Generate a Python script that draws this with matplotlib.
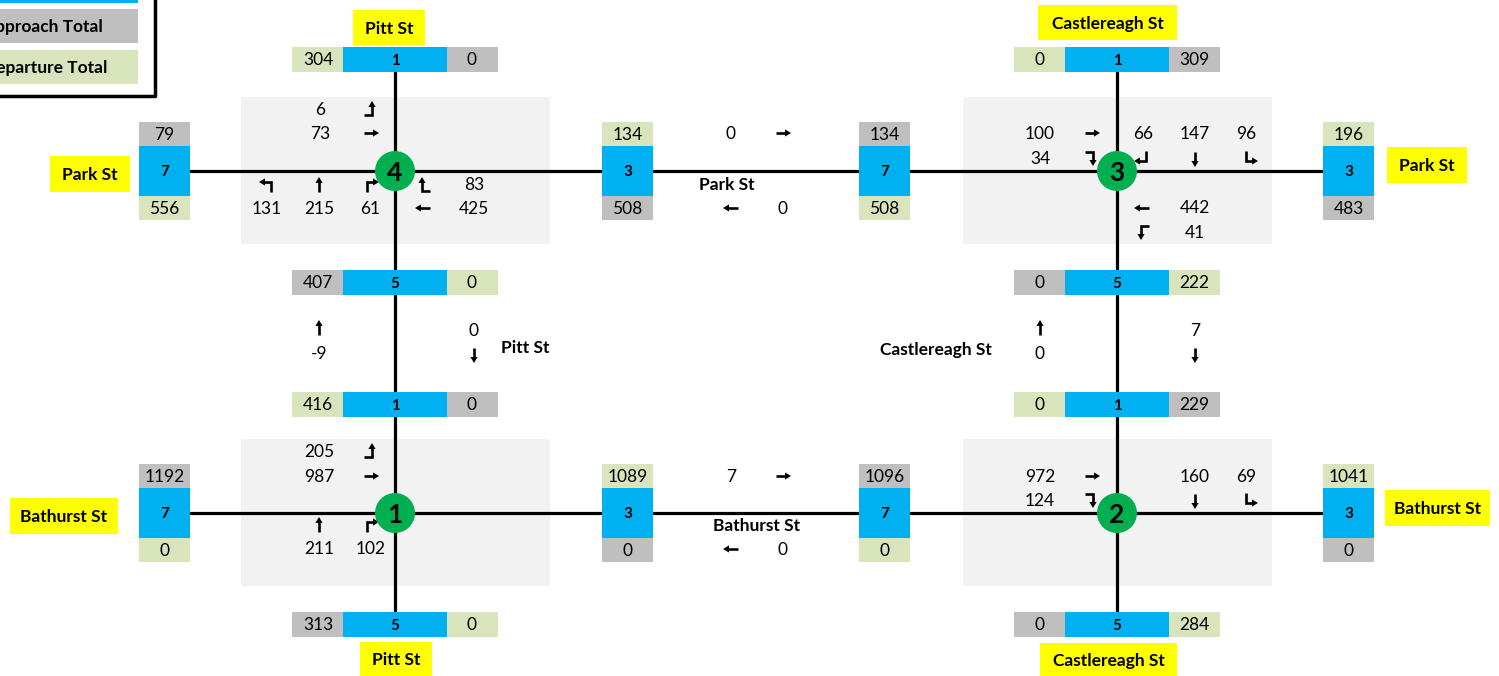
# ____________________________________________________________
# import modules
import numpy as np
import matplotlib.pyplot as plt
from matplotlib.patches import Rectangle, Circle, Polygon

plt.rcParams['font.family'] = ['Lato', 'DejaVu Sans']

# ____________________________________________________________
# data

# approach / departure boxes on the east-west streets (top, lane, bottom)
side_top = [79, 134, 134, 196, 1192, 1089, 1096, 1041]
side_lane = [7, 3, 7, 3, 7, 3, 7, 3]
side_bottom = [556, 508, 508, 483, 0, 0, 0, 0]
side_top_is_approach = [True, False, True, False, True, False, True, False]

# approach / departure boxes on the north-south streets (left, lane, right)
ns_left = [304, 407, 416, 313, 0, 0, 0, 0]
ns_lane = [1, 5, 1, 5, 1, 5, 1, 5]
ns_right = [0, 0, 0, 0, 309, 222, 229, 284]
ns_left_is_approach = [False, True, False, True, False, True, False, True]

# turning movements per intersection (volume, arrow)
int4_moves = [(6, '⬏'), (73, '→'), (131, '↰'), (215, '↑'), (61, '↱'), (83, '⬑'), (425, '←')]
int3_moves = [(100, '→'), (34, '⬎'), (66, '↵'), (147, '↓'), (96, '↳'), (442, '←'), (41, '⬐')]
int1_moves = [(205, '⬏'), (987, '→'), (211, '↑'), (102, '↱')]
int2_moves = [(972, '→'), (124, '⬎'), (160, '↓'), (69, '↳')]

# mid-block link flows
park_link = [0, 0]          # eastbound, westbound
bathurst_link = [7, 0]
pitt_link = [-9, 0]         # northbound, southbound
castlereagh_link = [0, 7]

street_labels = ['Pitt St', 'Castlereagh St', 'Park St', 'Bathurst St']
intersection_ids = [4, 3, 1, 2]

BLUE = '#00B0F0'
GREY = '#BFBFBF'
GREEN = '#D8E4BC'
YELLOW = '#FFFF00'
NODE = '#00B050'
SHADE = '#F2F2F2'

# arrow shapes as polylines (pixel offsets, y down), last point is the tip
ARROW_PATHS = {
    '→': [(-7, 0), (7, 0)],
    '←': [(7, 0), (-7, 0)],
    '↑': [(0, 7), (0, -7)],
    '↓': [(0, -7), (0, 7)],
    '⬏': [(-7, 6), (1, 6), (1, -7)],
    '⬎': [(-7, -6), (1, -6), (1, 7)],
    '⬑': [(7, 6), (-1, 6), (-1, -7)],
    '⬐': [(7, -6), (-1, -6), (-1, 7)],
    '↰': [(4, 7), (4, -3), (-7, -3)],
    '↱': [(-4, 7), (-4, -3), (7, -3)],
    '↳': [(-4, -7), (-4, 3), (7, 3)],
    '↵': [(4, -7), (4, 3), (-7, 3)],
}

# ____________________________________________________________
# figure

fig = plt.figure(figsize=(14.99, 6.76), dpi=100)
ax = fig.add_axes([0, 0, 1, 1])
ax.set_xlim(0, 1499)
ax.set_ylim(676, 0)
ax.axis('off')


def box(x0, y0, x1, y1, color, z=3):
    ax.add_patch(Rectangle((x0, y0), x1 - x0, y1 - y0, facecolor=color,
                           edgecolor='none', zorder=z))


def txt(x, y, s, size=12.5, bold=False, z=6):
    ax.text(x, y, str(s), ha='center', va='center', fontsize=size,
            fontweight='bold' if bold else 'normal', color='black', zorder=z)


def arrow(x, y, s):
    pts = np.array(ARROW_PATHS[s], dtype=float) + [x, y]
    tip = pts[-1]
    d = tip - pts[-2]
    d = d / np.hypot(*d)
    n = np.array([-d[1], d[0]])
    line = pts.copy()
    line[-1] = tip - 4 * d
    ax.plot(line[:, 0], line[:, 1], color='black', lw=1.9,
            solid_joinstyle='miter', solid_capstyle='butt', zorder=6)
    head = [tip + 1 * d, tip - 5 * d + 3.6 * n, tip - 5 * d - 3.6 * n]
    ax.add_patch(Polygon(head, closed=True, facecolor='black', edgecolor='none', zorder=6))


def label(x0, y0, x1, y1, s):
    box(x0, y0, x1, y1, YELLOW)
    txt((x0 + x1) / 2, (y0 + y1) / 2 + 1, s, size=12.5, bold=True)


# legend (partly off canvas)
box(0, 0, 138, 2.5, BLUE)
box(0, 9, 138, 43, GREY)
box(0, 50, 138, 84, GREEN)
ax.text(103, 27, 'Approach Total', ha='right', va='center', fontsize=12.5, fontweight='bold', zorder=6)
ax.text(107, 68, 'Departure Total', ha='right', va='center', fontsize=12.5, fontweight='bold', zorder=6)
ax.plot([155, 155, -5], [-5, 96, 96], color='black', lw=2.5, zorder=5)

# shaded intersection areas
for cx, cy in [(395, 171), (1117, 171), (395, 513), (1117, 513)]:
    box(cx - 154, cy - 74, cx + 155, cy + 73, SHADE, z=1)

# road lines
for y in [171, 513]:
    ax.plot([190, 1323], [y, y], color='black', lw=2.3, zorder=2)
for x in [395, 1117]:
    ax.plot([x, x], [72, 612], color='black', lw=2.3, zorder=2)

# east-west boxes
side_x = [139, 602, 859, 1323] * 2
side_cy = [171] * 4 + [513] * 4
for i in range(8):
    x0, cy = side_x[i], side_cy[i]
    top_col = GREY if side_top_is_approach[i] else GREEN
    bot_col = GREEN if side_top_is_approach[i] else GREY
    box(x0, cy - 49, x0 + 51, cy - 25, top_col)
    box(x0, cy - 25, x0 + 51, cy + 25, BLUE)
    box(x0, cy + 25, x0 + 51, cy + 49, bot_col)
    txt(x0 + 25.5, cy - 36, side_top[i])
    txt(x0 + 25.5, cy + 1, side_lane[i], size=11, bold=True)
    txt(x0 + 25.5, cy + 38, side_bottom[i])

# north-south boxes
ns_cx = [395] * 4 + [1117] * 4
ns_y = [47, 270, 392, 612] * 2
for i in range(8):
    cx, y0 = ns_cx[i], ns_y[i]
    l_col = GREY if ns_left_is_approach[i] else GREEN
    r_col = GREEN if ns_left_is_approach[i] else GREY
    box(cx - 103, y0, cx - 52, y0 + 25, l_col)
    box(cx - 52, y0, cx + 52, y0 + 25, BLUE)
    box(cx + 52, y0, cx + 103, y0 + 25, r_col)
    txt(cx - 77, y0 + 13, ns_left[i])
    txt(cx, y0 + 14, ns_lane[i], size=11, bold=True)
    txt(cx + 77, y0 + 13, ns_right[i])

# street labels
label(353, 10, 425, 45, street_labels[0])
label(360, 642, 432, 676, street_labels[0])
label(1038, 5, 1177, 40, street_labels[1])
label(1040, 643, 1177, 677, street_labels[1])
label(50, 156, 130, 192, street_labels[2])
label(1387, 147, 1467, 183, street_labels[2])
label(10, 498, 118, 534, street_labels[3])
label(1385, 490, 1490, 526, street_labels[3])

# intersection nodes
for (cx, cy), n in zip([(395, 171), (1117, 171), (395, 513), (1117, 513)], intersection_ids):
    ax.add_patch(Circle((cx, cy), 20, facecolor=NODE, edgecolor='none', zorder=7))
    txt(cx, cy + 2, n, size=19, bold=True, z=8)

# intersection 4 movements
pos4 = [((320, 110), (371, 109)), ((320, 134), (371, 133)),
        ((267, 209), (267, 185)), ((319, 209), (319, 185)), ((370, 209), (371, 185)),
        ((474, 185), (423, 185)), ((474, 209), (423, 208))]
for (v, a), (pv, pa) in zip(int4_moves, pos4):
    txt(*pv, v)
    arrow(*pa, a)

# intersection 3 movements
pos3 = [((1040, 134), (1092, 133)), ((1040, 159), (1092, 158)),
        ((1143, 134), (1142, 158)), ((1195, 134), (1195, 159)), ((1246, 134), (1250, 158)),
        ((1195, 208), (1142, 208)), ((1195, 233), (1142, 232))]
for (v, a), (pv, pa) in zip(int3_moves, pos3):
    txt(*pv, v)
    arrow(*pa, a)

# intersection 1 movements
pos1 = [((319, 452), (371, 451)), ((319, 477), (371, 476)),
        ((319, 549), (319, 525)), ((371, 549), (371, 525))]
for (v, a), (pv, pa) in zip(int1_moves, pos1):
    txt(*pv, v)
    arrow(*pa, a)

# intersection 2 movements
pos2 = [((1040, 477), (1092, 476)), ((1040, 501), (1092, 500)),
        ((1195, 477), (1195, 501)), ((1246, 477), (1250, 500))]
for (v, a), (pv, pa) in zip(int2_moves, pos2):
    txt(*pv, v)
    arrow(*pa, a)

# mid-block links
txt(731, 134, park_link[0]); arrow(783, 133, '→')
arrow(731, 208, '←'); txt(783, 209, park_link[1])
txt(727, 185, street_labels[2], bold=True)

txt(731, 477, bathurst_link[0]); arrow(783, 476, '→')
arrow(731, 549, '←'); txt(783, 550, bathurst_link[1])
txt(757, 526, street_labels[3], bold=True)

arrow(319, 328, '↑'); txt(319, 354, pitt_link[0])
txt(474, 331, pitt_link[1]); arrow(474, 355, '↓')
txt(525, 348, street_labels[0], bold=True)

arrow(1040, 328, '↑'); txt(1040, 354, castlereagh_link[0])
txt(1195, 331, castlereagh_link[1]); arrow(1195, 355, '↓')
txt(936, 350, street_labels[1], bold=True)

fig.savefig('out.png', dpi=100)
